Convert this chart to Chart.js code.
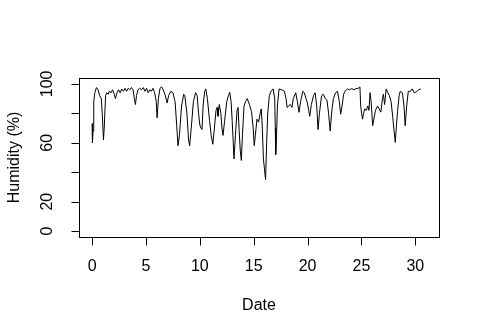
<!DOCTYPE html>
<html>
<head>
<meta charset="utf-8">
<script src="https://cdn.jsdelivr.net/npm/chart.js@4.4.1/dist/chart.umd.min.js"></script>
<style>
  html, body { margin: 0; padding: 0; background: #fff; }
  canvas { display: block; }
</style>
</head>
<body>
<canvas id="humidity" width="480" height="335"></canvas>
<script>
"use strict";

// time in days since start, humidity in %
const days = [
  0.00, 0.03, 0.08, 0.15, 0.25, 0.40, 0.55, 0.70, 0.85, 0.95,
  1.05, 1.12, 1.25, 1.35, 1.50, 1.60, 1.75, 1.90, 2.05, 2.16,
  2.30, 2.45, 2.60, 2.75, 2.90, 3.05, 3.20, 3.35, 3.50, 3.65,
  3.80, 3.92, 4.02, 4.12, 4.25, 4.40, 4.60, 4.75, 4.90, 5.05,
  5.20, 5.35, 5.50, 5.65, 5.80, 5.95, 6.03, 6.15, 6.30, 6.45,
  6.60, 6.75, 6.90, 6.96, 7.10, 7.30, 7.50, 7.70, 7.85, 7.97,
  8.10, 8.30, 8.50, 8.60, 8.80, 8.95, 9.05, 9.20, 9.40, 9.60,
  9.75, 9.88, 10.00, 10.10, 10.20, 10.30, 10.45, 10.55, 10.70, 10.90,
  11.05, 11.20, 11.35, 11.50, 11.60, 11.68, 11.80, 11.95, 12.05, 12.15,
  12.30, 12.50, 12.65, 12.77, 12.90, 13.00, 13.10, 13.17, 13.30, 13.45,
  13.55, 13.64, 13.75, 13.85, 13.95, 14.10, 14.25, 14.40, 14.60, 14.80,
  14.95, 15.05, 15.15, 15.30, 15.45, 15.60, 15.70, 15.80, 15.90, 16.00,
  16.10, 16.20, 16.30, 16.45, 16.60, 16.80, 16.95, 17.00, 17.04, 17.10,
  17.20, 17.35, 17.60, 17.85, 18.00, 18.10, 18.25, 18.40, 18.55, 18.67,
  18.90, 19.05, 19.20, 19.35, 19.55, 19.70, 19.85, 19.97, 20.10, 20.20,
  20.35, 20.55, 20.70, 20.85, 20.97, 21.10, 21.30, 21.45, 21.65, 21.80,
  21.95, 22.10, 22.25, 22.40, 22.60, 22.77, 22.95, 23.07, 23.20, 23.35,
  23.47, 23.70, 23.90, 24.10, 24.30, 24.50, 24.70, 24.86, 24.93, 25.02,
  25.10, 25.20, 25.30, 25.45, 25.60, 25.70, 25.80, 25.90, 26.04, 26.15,
  26.30, 26.50, 26.65, 26.80, 26.95, 27.04, 27.15, 27.30, 27.45, 27.60,
  27.75, 27.90, 28.00, 28.14, 28.25, 28.36, 28.50, 28.60, 28.80, 28.95,
  29.06, 29.20, 29.35, 29.55, 29.70, 29.90, 30.10, 30.30, 30.50
];
const humidity = [
  73, 60, 68, 88, 94, 97.5, 96, 92, 90, 78,
  62, 70, 92, 94, 93, 95, 94, 96, 93, 90,
  94, 96, 94, 96.5, 95, 97, 95, 97, 96, 97.5,
  96, 90, 86, 92, 96, 97, 96, 97.5, 95, 97,
  94, 96, 95, 97, 94, 88, 77, 90, 97, 98,
  96, 93, 89, 87, 92, 95, 94, 88, 72, 58,
  65, 85, 93, 92, 80, 62, 58, 70, 88, 94,
  92, 80, 72, 70, 69, 85, 95, 96.6, 90, 75,
  65, 59, 70, 82, 84, 78, 86, 80, 70, 65,
  75, 88, 92, 94.3, 88, 75, 60, 49, 65, 82,
  84, 69, 55, 48, 65, 85, 88, 90, 86, 81,
  70, 58, 65, 76, 74, 80, 83, 70, 49, 42,
  35, 60, 80, 92, 95, 96.6, 90, 70, 52, 60,
  85, 96.6, 96, 95, 90, 84, 85, 86, 84, 90,
  94, 88, 80.7, 88, 95, 94, 90, 87.5, 82, 78,
  86, 92, 94, 85, 69, 80, 92, 93, 90, 89,
  80, 68, 82, 90, 94, 95, 88, 79.4, 85, 93,
  95, 96.6, 96, 96.8, 96, 96.8, 97, 98, 85, 80,
  76, 80, 83, 82, 85, 82, 94, 88, 71.6, 76,
  82, 85, 83, 80.8, 90, 93, 86, 96.6, 94, 92,
  88, 78, 70, 60.3, 72, 82, 92, 95, 94, 85,
  71.6, 85, 95, 95, 96.6, 94, 94.5, 96, 96.6
];

const xTicks = [0, 5, 10, 15, 20, 25, 30];
const yTicks = [0, 20, 40, 60, 80, 100];
const yTickLabels = ["0", "20", "", "60", "", "100"];

const FONT = "16px 'Liberation Sans', Arial, sans-serif";

// base-graphics style frame, ticks and labels
const rAxes = {
  id: "rAxes",
  afterDraw: function (chart) {
    const ctx = chart.ctx;
    const a = chart.chartArea;
    const xs = chart.scales.x;
    const ys = chart.scales.y;
    ctx.save();
    ctx.strokeStyle = "#000";
    ctx.lineWidth = 1;
    ctx.strokeRect(Math.round(a.left) + 0.5, Math.round(a.top) + 0.5,
      Math.round(a.right - a.left), Math.round(a.bottom - a.top));

    ctx.fillStyle = "#000";
    ctx.font = FONT;

    // x axis
    const xb = Math.round(a.bottom) + 0.5;
    ctx.beginPath();
    xTicks.forEach(v => {
      const px = Math.round(xs.getPixelForValue(v)) + 0.5;
      ctx.moveTo(px, xb);
      ctx.lineTo(px, xb + 8);
    });
    ctx.stroke();
    ctx.textAlign = "center";
    ctx.textBaseline = "middle";
    xTicks.forEach(v => {
      ctx.fillText(String(v), xs.getPixelForValue(v), 267);
    });
    ctx.fillText("Date", (a.left + a.right) / 2, 306);

    // y axis
    const yl = Math.round(a.left) + 0.5;
    ctx.beginPath();
    yTicks.forEach(v => {
      const py = Math.round(ys.getPixelForValue(v)) + 0.5;
      ctx.moveTo(yl, py);
      ctx.lineTo(yl - 8, py);
    });
    ctx.stroke();
    yTicks.forEach((v, i) => {
      if (!yTickLabels[i]) return;
      ctx.save();
      ctx.translate(48, ys.getPixelForValue(v));
      ctx.rotate(-Math.PI / 2);
      ctx.fillText(yTickLabels[i], 0, 0);
      ctx.restore();
    });
    ctx.save();
    ctx.translate(15, (a.top + a.bottom) / 2);
    ctx.rotate(-Math.PI / 2);
    ctx.fillText("Humidity (%)", 0, 0);
    ctx.restore();

    ctx.restore();
  }
};

new Chart(document.getElementById("humidity"), {
  type: "line",
  data: {
    datasets: [{
      data: days.map((d, i) => ({ x: d, y: humidity[i] })),
      borderColor: "#000",
      borderWidth: 1,
      pointRadius: 0,
      tension: 0,
      fill: false
    }]
  },
  options: {
    responsive: false,
    animation: false,
    layout: { padding: { left: 79, right: 41, top: 78, bottom: 98 } },
    scales: {
      x: { type: "linear", min: -1.22, max: 32.2, display: false },
      y: { type: "linear", min: -4, max: 104, display: false }
    },
    plugins: {
      legend: { display: false },
      tooltip: { enabled: false }
    }
  },
  plugins: [rAxes]
});
</script>
</body>
</html>
